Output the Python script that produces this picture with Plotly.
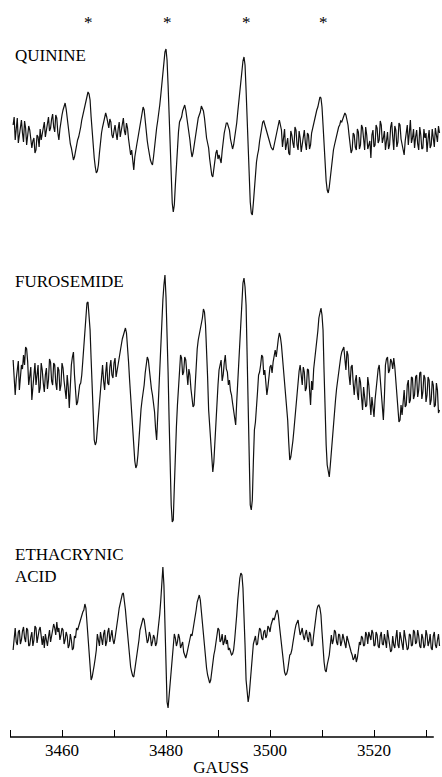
import plotly.graph_objects as go

# ESR field sweep (gauss): first sample and sampling step
FIELD_START = 3450.6
FIELD_STEP = 0.2

# Signal amplitudes (arbitrary units)
quinine = [
    10, 18, -5, 4, 17, -8, 0, 12, 15, 2, -7, 14, 7, -10, -3, 9, 5, -2, -13, -6,
    -3, -18, -15, 0, -2, -12, 6, -5, 0, 8, 13, -2, 5, 15, 18, 4, 7, 16, 21, 8,
    3, 20, 17, 2, -5, 6, 15, 20, 25, 30, 32, 26, 17, 5, -5, -9, -13, -20, -25, -22,
    -15, -12, -5, -2, 2, 8, 15, 20, 25, 30, 35, 40, 43, 41, 35, 18, 0, -12, -23, -32,
    -38, -36, -30, -18, -5, 2, 8, 14, 19, 22, 18, 10, 7, 16, 13, 0, -3, 4, 10, 2,
    -5, 6, 13, -2, 5, 12, 17, 4, 0, 12, 7, -4, -10, -20, -15, -28, -35, -22, -13, -9,
    -3, 4, 10, 16, 21, 28, 25, 12, 3, -6, -13, -20, -25, -28, -30, -22, -10, -2, 7, 14,
    20, 30, 40, 52, 63, 75, 83, 86, 75, 50, 20, -15, -50, -68, -77, -70, -50, -30, -10, 3,
    13, 15, 18, 24, 27, 30, 25, 18, 12, 4, -5, -15, -22, -18, -10, -2, 5, 12, 17, 20,
    23, 29, 27, 24, 17, 6, -3, -8, -13, -24, -33, -40, -42, -34, -25, -18, -15, -24, -20, -25,
    -28, -16, -5, 2, 7, 12, 12, 9, 5, -4, -10, -14, -10, -4, 3, 12, 23, 34, 45, 55,
    65, 74, 78, 70, 45, 15, -20, -45, -67, -78, -80, -68, -50, -38, -27, -20, -15, -6, 2, 8,
    13, 14, 10, 6, 3, -1, -5, -8, -12, -14, -15, -10, -5, 2, 7, 12, 15, 10, 5, -12,
    -5, 6, -15, -6, -3, -18, -20, 4, 0, -8, -13, 8, 5, -10, -15, 4, -3, -17, -10, 0,
    5, -8, -15, 2, 0, -14, -10, 2, 7, 12, 15, 20, 25, 28, 33, 38, 37, 28, 10, -12,
    -35, -46, -55, -58, -52, -42, -30, -22, -15, -10, -5, 0, 5, 8, 10, 14, 13, 16, 17, 22,
    20, 15, 10, 0, -10, -18, -15, 2, 0, -12, -15, 6, 3, -14, -10, 10, 7, -5, -15, 8,
    0, -14, -10, -6, -23, 0, 5, -12, -10, 10, 7, -8, -5, 14, 10, -8, -3, 4, -15, -4,
    3, -14, -10, 8, 13, -2, -15, 9, 5, -12, -7, 12, 10, -4, -10, -16, -20, -6, 3, 10,
    -10, 4, 15, -8, -3, 6, -13, -2, 5, -9, -15, 8, 0, -14, -13, 6, -3, 2, -17, -4,
    5, -13, -10, 6, -3, -12, 7, -2, -7, 9, 2,
]

furosemide = [
    17, -5, -18, -2, 7, 16, -13, 0, 12, 8, 22, 12, 30, 28, 15, -8, 2, 10, -23, -10,
    5, 14, -8, 6, 12, -16, -11, 14, 7, -6, -15, 2, 9, -12, -3, 18, 15, -4, -8, 14,
    12, -6, -13, 10, 7, -14, -8, 14, 9, -4, -16, -22, 2, -10, -31, -8, 12, 20, 25, 2,
    -18, -28, -25, -16, -8, -6, 2, 16, 32, 50, 67, 74, 75, 64, 47, 18, -13, -40, -63, -68,
    -65, -52, -38, -20, -8, 4, 12, -4, -13, 4, 15, -6, -8, 10, 17, 2, -1, 14, 19, 0,
    7, 16, 22, 30, 32, 38, 42, 47, 49, 44, 32, 15, -3, -20, -38, -56, -73, -84, -91, -88,
    -78, -60, -43, -32, -23, -16, -8, 4, 15, 20, 17, 6, -3, -12, -18, -26, -35, -52, -63, -40,
    -13, 8, 27, 52, 77, 92, 102, 80, 50, 5, -43, -90, -128, -145, -143, -110, -73, -50, -28, -8,
    12, 22, 19, 2, 5, 20, 17, -2, -8, 8, 2, -12, -23, -30, -28, -5, 17, 28, 37, 42,
    47, 54, 59, 68, 65, 52, 32, 0, -33, -50, -63, -82, -95, -85, -63, -42, -23, -8, 7, 14,
    17, -4, 2, 14, 22, 8, 5, -8, -3, -14, -18, -26, -33, -40, -48, -25, -3, 20, 42, 62,
    82, 94, 99, 90, 72, 20, -33, -85, -128, -133, -123, -85, -53, -45, -33, -15, 2, 5, 12, 22,
    20, 2, 7, -6, -18, -10, -1, 10, 12, 4, 15, 24, 27, 20, 32, 38, 44, 40, 32, 20,
    7, -6, -18, -30, -43, -65, -83, -80, -73, -64, -53, -40, -28, -14, -1, 6, 12, -2, -8, 10,
    5, -14, -11, 8, 7, -12, -28, -4, -13, 8, 17, 26, 32, 46, 59, 66, 69, 62, 47, 5,
    -43, -68, -88, -96, -100, -88, -73, -60, -48, -35, -23, -12, -3, 4, 12, 20, 25, 28, 30, 18,
    7, 26, 22, 2, -8, 10, 12, -6, -18, -4, 2, -16, -23, 0, -5, -20, -33, -10, -18, -30,
    -28, 0, -8, -30, -38, -20, -33, -40, -23, -10, -3, 8, 12, -2, -8, -25, -43, -20, 12, 18,
    20, 4, 7, 18, 15, 8, 19, 10, -3, -20, -33, -45, -43, -28, -38, -20, -13, -30, -28, -8,
    -3, -26, -23, 0, -1, -22, -18, 0, 2, -20, -13, 4, 5, -22, -15, 2, -1, -25, -18, 0,
    -3, -28, -23, -4, -8, -30, -28, -6, -13, -36, -33,
]

ethacrynic_acid = [
    -10, 4, 12, -2, -5, 8, 10, -4, 0, 9, 13, 2, -2, 12, 10, -6, -5, 3, 8, -6,
    0, 14, 12, -3, 5, 10, 13, 0, -5, 4, -8, 6, 0, -6, 3, 10, -2, 4, 8, 16,
    12, 5, 18, 8, 12, 0, 5, 12, 10, -4, 0, 8, 4, -8, -5, 6, 0, -10, -8, 4,
    2, 12, 10, 14, 18, 22, 25, 28, 30, 36, 32, 18, 0, -18, -30, -40, -37, -32, -25, -18,
    -10, 6, 0, -6, 8, 2, -5, 6, 10, -6, -2, 8, 12, -2, 5, 10, 0, -4, 2, 8,
    15, 24, 32, 38, 42, 46, 47, 40, 30, 18, 5, -8, -20, -27, -32, -36, -37, -30, -20, -15,
    -10, 0, 10, 14, 18, 22, 20, 12, 5, -3, 0, 8, 4, -6, -2, 5, 2, -6, -3, 6,
    15, 26, 40, 58, 73, 55, 20, -25, -62, -68, -55, -40, -25, -12, 0, 6, 2, -6, -2, 6,
    2, -8, -5, -2, -12, -15, -18, -14, -8, -3, 0, 6, 4, 10, 15, 22, 30, 38, 43, 45,
    40, 28, 15, 3, -10, -20, -28, -35, -40, -43, -40, -30, -20, -15, -10, -2, 5, 12, 10, -2,
    0, 6, -5, -2, 5, -4, 0, -10, -8, -12, -15, -14, -10, 0, 10, 25, 40, 52, 62, 67,
    65, 52, 30, -5, -40, -55, -62, -55, -40, -25, -12, -4, 0, 4, -5, -4, 5, 12, 10, 2,
    0, 8, 10, 2, 5, 14, 12, 8, 15, 18, 22, 20, 25, 28, 30, 25, 15, 5, -5, -15,
    -25, -32, -35, -34, -30, -22, -15, -14, -10, -3, 5, 10, 15, 18, 20, 12, 5, 8, 12, 4,
    0, 6, 10, 2, -2, 8, 5, -6, -5, 5, 15, 24, 30, 34, 35, 32, 25, 8, -10, -22,
    -30, -32, -25, -20, -15, -5, 5, -4, 0, 10, 8, -2, -5, 6, 5, -6, -2, 6, 2, -4,
    -8, 4, 0, -6, -10, -12, -15, -20, -18, -14, -22, -18, -10, -2, -5, 4, 2, -6, -5, 8,
    5, -4, 8, 2, 0, 10, 7, -6, -5, 8, 5, -6, -8, 4, 8, -4, -5, 6, 0, -8,
    10, 2, -2, -12, -10, 4, -5, -8, 2, 10, -5, -8, 8, 2, -5, -10, 10, 4, -2, -10,
    -8, 6, 5, -6, -5, 10, 8, -4, -2, 10, 4, -6, -8, 6, 2, -8, -5, 10, 5, -6,
    -2, 6, -8, -10, 4, 8, -5, -8, 0, 6, -6,
]

sample_names = ["QUININE", "FUROSEMIDE", "ETHACRYNIC<br>ACID"]
tick_vals = [3450, 3460, 3470, 3480, 3490, 3500, 3510, 3520, 3530]
tick_text = ["", "3460", "", "3480", "", "3500", "", "3520", ""]
marked_lines = [3465.0, 3480.2, 3495.4, 3510.2]  # asterisk positions (gauss)

field = [round(FIELD_START + i * FIELD_STEP, 2) for i in range(len(quinine))]

# layout: vertical stacking offsets of each spectrum
offsets = [-135, -377, -640]
label_y = [-55, -281, -565]
SERIF = "Liberation Serif"

fig = go.Figure()
for vals, off in zip([quinine, furosemide, ethacrynic_acid], offsets):
    fig.add_trace(go.Scatter(
        x=field[:len(vals)], y=[off + v for v in vals], mode="lines",
        line=dict(color="#111111", width=1.2), hoverinfo="skip", showlegend=False,
    ))

for name, y in zip(sample_names, label_y):
    fig.add_annotation(
        text=name, xref="paper", x=13 / 442, y=y, yref="y",
        xanchor="left", yanchor="middle", align="left", showarrow=False,
        font=dict(family=SERIF, size=17, color="black"),
    )

for f in marked_lines:
    fig.add_annotation(
        text="*", x=f, y=-22, xref="x", yref="y", showarrow=False,
        xanchor="center", yanchor="middle",
        font=dict(family=SERIF, size=17, color="black"),
    )

fig.add_shape(type="line", xref="x", yref="paper", x0=3450, x1=3531.5,
              y0=0, y1=0, line=dict(color="black", width=1.6))

fig.update_layout(
    width=442, height=777,
    margin=dict(l=0, r=0, t=0, b=40),
    paper_bgcolor="white", plot_bgcolor="white",
    xaxis=dict(
        range=[3450 - 10 / 5.2, 3450 + 432 / 5.2],
        tickvals=tick_vals, ticktext=tick_text,
        ticks="inside", ticklen=7, tickwidth=1, tickcolor="black",
        showline=False, showgrid=False, zeroline=False,
        tickfont=dict(family=SERIF, size=17, color="black"),
        ticklabelstandoff=1,
        title=dict(text="GAUSS", font=dict(family=SERIF, size=17, color="black"), standoff=2),
    ),
    yaxis=dict(visible=False, range=[-737, 0], showgrid=False, zeroline=False),
)

fig.write_html(
    "out.html",
    config={"displayModeBar": False},
    post_script="document.body.style.margin='0';document.body.style.padding='0';",
)
